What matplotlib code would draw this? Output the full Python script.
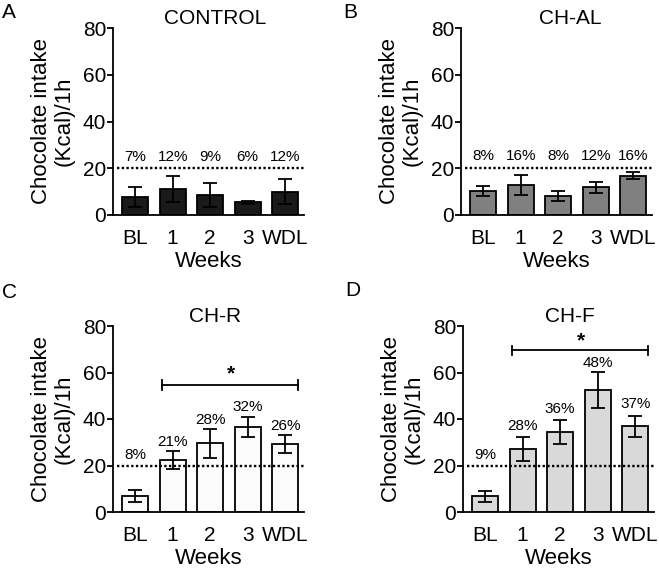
import numpy as np
import matplotlib.pyplot as plt

plt.rcParams['font.family'] = ['Liberation Sans', 'DejaVu Sans']

weeks = ["BL", "1", "2", "3", "WDL"]

# panel A - CONTROL
ctrl_mean = [7.7, 11.1, 8.6, 5.4, 9.9]
ctrl_err = [4.2, 5.4, 5.1, 0.8, 5.3]
ctrl_pct = ["7%", "12%", "9%", "6%", "12%"]

# panel B - CH-AL
al_mean = [10.2, 12.7, 8.1, 11.8, 16.8]
al_err = [2.1, 4.3, 2.0, 2.2, 1.6]
al_pct = ["8%", "16%", "8%", "12%", "16%"]

# panel C - CH-R
r_mean = [7.0, 22.4, 29.5, 36.6, 29.2]
r_err = [2.6, 4.0, 6.2, 4.4, 3.8]
r_pct = ["8%", "21%", "28%", "32%", "26%"]
r_pct_y = [24.5, 30.1, 39.7, 45.0, 36.8]

# panel D - CH-F
f_mean = [6.7, 27.0, 34.4, 52.4, 36.9]
f_err = [2.2, 5.1, 5.3, 7.8, 4.5]
f_pct = ["9%", "28%", "36%", "48%", "37%"]
f_pct_y = [24.6, 36.8, 44.3, 64.3, 46.6]

W, H = 659, 568
fig = plt.figure(figsize=(W / 100, H / 100), dpi=100)


def make_ax(left, top, bottom, width=191):
    return fig.add_axes([left / W, 1 - bottom / H, width / W, (bottom - top) / H])


def panel(ax, mean, err, color, title, title_x, pct, pct_y, sig=None):
    x = np.arange(len(weeks))
    ax.bar(x, mean, width=0.7, color=color, edgecolor='black', linewidth=1.3, zorder=2)
    ax.errorbar(x, mean, yerr=err, fmt='none', ecolor='black', elinewidth=1.3,
                capsize=5, capthick=1.3, zorder=3)
    ax.axhline(20, xmin=0.02, xmax=1, color='black', linestyle=(0, (1, 1)), lw=1.7, zorder=4)
    for xi, t, yy in zip(x, pct, pct_y):
        ax.text(xi, yy, t, ha='center', va='center', fontsize=11)
    if sig is not None:
        y, ys = sig
        ax.plot([0.72, 4.35], [y, y], color='black', lw=1.3)
        ax.plot([0.72, 0.72], [y - 2, y + 2], color='black', lw=1.3)
        ax.plot([4.35, 4.35], [y - 2, y + 2], color='black', lw=1.3)
        ax.text(2.55, ys, "*", ha='center', va='center', fontsize=15, fontweight='bold')
    ax.set_xlim(-0.59, 4.5)
    ax.set_ylim(0, 80)
    ax.set_yticks([0, 20, 40, 60, 80])
    ax.set_xticks(x)
    ax.set_xticklabels(weeks)
    ax.tick_params(axis='y', length=4, width=1.3, pad=1, labelsize=15)
    ax.tick_params(axis='x', length=0, pad=10, labelsize=15)
    for s in ['top', 'right']:
        ax.spines[s].set_visible(False)
    for s in ['left', 'bottom']:
        ax.spines[s].set_linewidth(1.3)
    ax.set_xlabel("Weeks", fontsize=16, labelpad=2)
    ax.set_ylabel("Chocolate intake\n(Kcal)/1h", fontsize=16, linespacing=1.1)
    ax.yaxis.set_label_coords(-0.2, 0.5)
    ax.set_title(title, fontsize=15, pad=2, x=title_x)


axA = make_ax(113, 28, 215)
panel(axA, ctrl_mean, ctrl_err, '#1a1a1a', "CONTROL", 0.535, ctrl_pct, [25] * 5)
axB = make_ax(461, 28, 215)
panel(axB, al_mean, al_err, '#808080', "CH-AL", 0.57, al_pct, [25.4] * 5)
axC = make_ax(113, 326, 512)
panel(axC, r_mean, r_err, '#fbfbfb', "CH-R", 0.535, r_pct, r_pct_y, sig=(54.6, 59.5))
axD = make_ax(463, 326, 512)
panel(axD, f_mean, f_err, '#d9d9d9', "CH-F", 0.56, f_pct, f_pct_y, sig=(69.5, 73.6))

for lbl, x, y in [("A", 2, 3), ("B", 343, 3), ("C", 2, 283), ("D", 345, 281)]:
    fig.text(x / W, 1 - y / H, lbl, fontsize=15, ha='left', va='top')

fig.savefig("out.png", dpi=100)
